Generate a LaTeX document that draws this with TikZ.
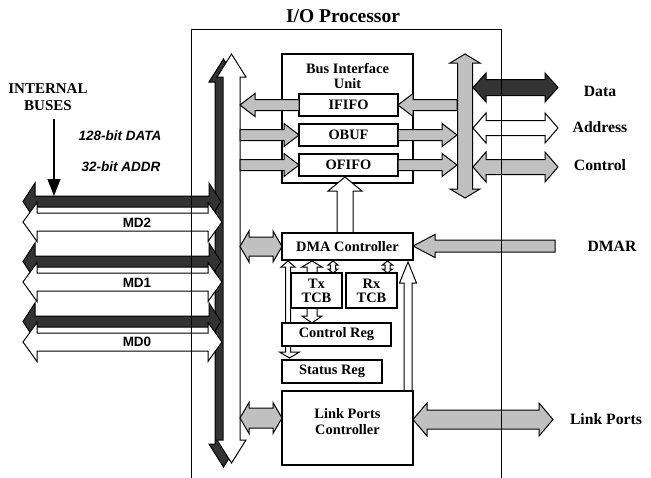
\documentclass[tikz,border=0pt]{standalone}
\usepackage{fontspec}
\setmainfont{Liberation Serif}
\newfontfamily\arialf{Liberation Sans}
\usetikzlibrary{arrows.meta}
\definecolor{lg}{RGB}{192,192,192}
\definecolor{dk}{RGB}{51,51,51}
% horizontal double arrow: style, left tip, right tip, yc, shaft half, head half, head len
\newcommand\HDbl[7]{\draw[#1] ({#2},{#4}) -- ({#2+#7},{#4-#6}) -- ({#2+#7},{#4-#5}) -- ({#3-#7},{#4-#5}) -- ({#3-#7},{#4-#6}) -- ({#3},{#4}) -- ({#3-#7},{#4+#6}) -- ({#3-#7},{#4+#5}) -- ({#2+#7},{#4+#5}) -- ({#2+#7},{#4+#6}) -- cycle;}
% horizontal single arrow: style, tail x, tip x, yc, shaft half, head half, signed head len
\newcommand\HSgl[7]{\draw[#1] ({#2},{#4-#5}) -- ({#3-(#7)},{#4-#5}) -- ({#3-(#7)},{#4-#6}) -- ({#3},{#4}) -- ({#3-(#7)},{#4+#6}) -- ({#3-(#7)},{#4+#5}) -- ({#2},{#4+#5}) -- cycle;}
% vertical double arrow: style, top tip, bottom tip, xc, shaft half, head half, head len
\newcommand\VDbl[7]{\draw[#1] ({#4},{#2}) -- ({#4+#6},{#2+#7}) -- ({#4+#5},{#2+#7}) -- ({#4+#5},{#3-#7}) -- ({#4+#6},{#3-#7}) -- ({#4},{#3}) -- ({#4-#6},{#3-#7}) -- ({#4-#5},{#3-#7}) -- ({#4-#5},{#2+#7}) -- ({#4-#6},{#2+#7}) -- cycle;}
% vertical single arrow: style, tail y, tip y, xc, shaft half, head half, signed head len (positive = down)
\newcommand\VSgl[7]{\draw[#1] ({#4-#5},{#2}) -- ({#4-#5},{#3-(#7)}) -- ({#4-#6},{#3-(#7)}) -- ({#4},{#3}) -- ({#4+#6},{#3-(#7)}) -- ({#4+#5},{#3-(#7)}) -- ({#4+#5},{#2}) -- cycle;}
\begin{document}
\begin{tikzpicture}[x=1pt,y=-1pt,
  box/.style={draw, fill=white, line width=1.1pt, inner sep=0pt, align=center,
    font=\fontsize{14.4}{15}\selectfont\bfseries},
  gfill/.style={draw=black, fill=lg, line width=1pt},
  wfill/.style={draw=black, fill=white, line width=1pt},
  dfill/.style={draw=black, fill=dk, line width=1pt},
  lbl/.style={font=\fontsize{15.7}{17}\selectfont\bfseries},
  itl/.style={font=\arialf\fontsize{13.5}{15}\selectfont\bfseries\itshape},
  mdl/.style={font=\arialf\fontsize{13.5}{15}\selectfont\bfseries},
  frame/.style={line width=1pt}]
\useasboundingbox (0,0) rectangle (651,477);

% title
\node[font=\fontsize{19.5}{21}\selectfont\bfseries] (title) at (343,16) {I/O Processor};

% left internal bus labels
\node[lbl, font=\fontsize{15}{17}\selectfont\bfseries, align=center] (ib) at (48,97.5) {INTERNAL\\BUSES};
\node[itl] (data128) at (120,136) {128-bit DATA};
\node[itl] (addr32) at (121,167) {32-bit ADDR};
\coordinate (ibs) at (54,119);
\coordinate (ibe) at (54,196);
\draw[line width=1.3pt, -{Triangle[length=17pt,width=13pt]}] (ibs) -- (ibe);

% vertical internal buses
\VDbl{dfill}{59}{467}{223.5}{8.5}{14.5}{23}
\VDbl{wfill}{54}{463}{231.5}{8.5}{14.5}{23}

% horizontal MD buses
\HDbl{dfill}{23}{221}{201.5}{5.5}{18.5}{12}
\HDbl{wfill}{23}{222}{222}{9}{19.5}{14}
\HDbl{dfill}{23}{221}{261.5}{5.5}{18.5}{12}
\HDbl{wfill}{23}{222}{282}{9}{19.5}{14}
\HDbl{dfill}{23}{221}{321.5}{5.5}{18.5}{12}
\HDbl{wfill}{23}{222}{342}{9}{19.5}{14}
\node[mdl] (md2) at (137,223) {MD2};
\node[mdl] (md1) at (137,283) {MD1};
\node[mdl] (md0) at (137,342) {MD0};

% external arrows on the right
\HDbl{dfill}{473}{558}{87.5}{8}{14.5}{13}
\HDbl{wfill}{473}{558}{128}{7.5}{15}{13}
\HDbl{gfill}{473}{558}{167}{7.5}{15}{13}
\HSgl{gfill}{555}{413}{246}{6}{11.5}{-22}
\HDbl{gfill}{413}{553}{419.5}{9.5}{16.5}{14}

% processor frame
\draw[frame] (191,478) -- (191,29) -- (501,29) -- (501,478);

% external labels
\node[lbl] (datal) at (600,91) {Data};
\node[lbl] (addrl) at (600,127) {Address};
\node[lbl] (ctrll) at (600,165) {Control};
\node[lbl] (dmarl) at (612,246) {DMAR};
\node[lbl] (linkl) at (606,419.5) {Link Ports};

% bus interface unit
\node[box, minimum width=131pt, minimum height=129pt] (biu) at (347.5,118.5) {};
\node[font=\fontsize{14.4}{15}\selectfont\bfseries, align=center] (biut) at (347.5,75.5) {Bus Interface\\Unit};
\node[box, minimum width=99pt, minimum height=22pt] (ififo) at (348.5,105) {IFIFO};
\node[box, minimum width=99pt, minimum height=22pt] (obuf) at (348.5,135) {OBUF};
\node[box, minimum width=99pt, minimum height=22pt] (ofifo) at (348.5,165) {OFIFO};

% BIU arrows
\HSgl{gfill}{299}{240}{105}{5.5}{11.5}{-15}
\HSgl{gfill}{457}{398}{105}{5.5}{11.5}{-15}
\HSgl{gfill}{240}{299}{135}{5.5}{11.5}{15}
\HSgl{gfill}{398}{457}{135}{5.5}{11.5}{15}
\HSgl{gfill}{240}{299}{165}{5.5}{11.5}{15}
\HSgl{gfill}{398}{457}{165}{5.5}{11.5}{15}

% right vertical bus
\VDbl{gfill}{54}{198}{465}{7.5}{15}{9}

% DMA section
\HDbl{gfill}{240}{282}{246.5}{9.5}{15.5}{9}
\VSgl{wfill}{233}{177}{345}{8}{17}{-14}
% tall double arrow to status reg
\draw[wfill] (288,261) -- (295,267) -- (290.5,267) -- (290.5,352) -- (299.5,352) -- (289.5,358) -- (279.5,352) -- (285.5,352) -- (285.5,267) -- (281,267) -- cycle;
\VSgl{wfill}{273}{261}{312}{5}{10}{-6}
\VDbl{wfill}{261}{273}{333}{2.5}{5}{4}
\VDbl{wfill}{261}{273}{387.5}{2.5}{5}{4}
\VSgl{wfill}{308}{323}{312}{5}{10}{7}
\VSgl{wfill}{391}{262}{408}{4}{8.5}{-21}

\node[box, minimum width=131pt, minimum height=27pt] (dma) at (347.5,246.5) {DMA Controller};
\node[box, minimum width=51pt, minimum height=35pt, font=\fontsize{14.4}{14}\selectfont\bfseries] (tx) at (316.5,290.5) {Tx\\TCB};
\node[box, minimum width=51pt, minimum height=35pt, font=\fontsize{14.4}{14}\selectfont\bfseries] (rx) at (371.5,290.5) {Rx\\TCB};
\node[box, minimum width=109pt, minimum height=23pt] (creg) at (336.5,334.5) {Control Reg};
\node[box, minimum width=100pt, minimum height=23pt] (sreg) at (332,371.5) {Status Reg};
\node[box, minimum width=131pt, minimum height=74pt] (link) at (347.5,428) {};
\node[font=\fontsize{14.4}{16.5}\selectfont\bfseries, align=center] (linkt) at (347.5,421.5) {Link Ports\\Controller};

\HDbl{gfill}{240}{282}{418}{10}{15.5}{9}
\end{tikzpicture}
\end{document}
